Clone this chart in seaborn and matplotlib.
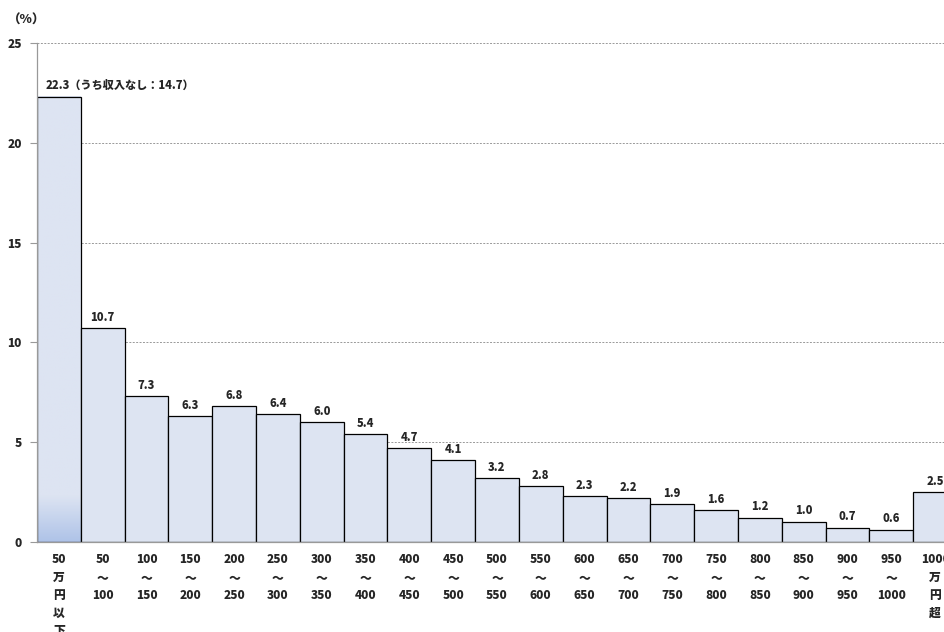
import numpy as np
import pandas as pd
import matplotlib
matplotlib.use("Agg")
import matplotlib.pyplot as plt
from matplotlib.colors import LinearSegmentedColormap
import seaborn as sns

# ---- data ----
categories = ["50\n万\n円\n以\n下", "50\n～\n100", "100\n～\n150", "150\n～\n200", "200\n～\n250",
              "250\n～\n300", "300\n～\n350", "350\n～\n400", "400\n～\n450", "450\n～\n500",
              "500\n～\n550", "550\n～\n600", "600\n～\n650", "650\n～\n700", "700\n～\n750",
              "750\n～\n800", "800\n～\n850", "850\n～\n900", "900\n～\n950", "950\n～\n1000",
              "1000\n万\n円\n超"]
values = [22.3, 10.7, 7.3, 6.3, 6.8, 6.4, 6.0, 5.4, 4.7, 4.1, 3.2, 2.8, 2.3, 2.2, 1.9,
          1.6, 1.2, 1.0, 0.7, 0.6, 2.5]
first_note = "（うち収入なし：14.7）"
yticks = [0, 5, 10, 15, 20, 25]

sns.set_theme(style="white")
plt.rcParams['font.family'] = ['Noto Sans CJK JP', 'DejaVu Sans']
W = 900
plt.rcParams['font.weight'] = W

BAR = "#dde4f2"
df = pd.DataFrame({"cat": categories, "val": values})

fig = plt.figure(figsize=(9.45, 6.32), dpi=100)
ax = fig.add_axes([37 / 945, 90 / 632, 920 / 945, 499 / 632])

sns.barplot(data=df, x="cat", y="val", color=BAR, saturation=1, width=1,
            edgecolor="black", linewidth=0.9, ax=ax, zorder=2)

ax.set_xlim(-0.5, len(categories) - 0.5)
ax.set_ylim(0, 25)
ax.set_yticks(yticks)
ax.set_yticklabels([str(t) for t in yticks], fontsize=8.5, fontweight=W)
ax.set_xlabel("")
ax.set_ylabel("")

# grid
for t in yticks[1:]:
    ax.axhline(t, color="#999999", linewidth=0.7, linestyle=(0, (2, 1.5)), zorder=1)

for s in ["top", "right"]:
    ax.spines[s].set_visible(False)
for s in ["left", "bottom"]:
    ax.spines[s].set_color("#999999")
    ax.spines[s].set_linewidth(0.9)

patches = ax.patches
# first bar gradient
p0 = patches[0]
n = 300
h = p0.get_height()
ys = np.linspace(h, 0, n)
frac = np.clip(1 - ys / 2.3, 0, 1)[:, None]
cmap = LinearSegmentedColormap.from_list("g", [BAR, "#afc3e8"])
ax.imshow(frac, cmap=cmap, vmin=0, vmax=1, aspect="auto",
          extent=(p0.get_x(), p0.get_x() + p0.get_width(), 0, h), zorder=1.5)
p0.set_facecolor("none")
ax.set_xlim(-0.5, len(categories) - 0.5)
ax.set_ylim(0, 25)

# x ticks
ax.set_xticks(range(len(categories)))
ax.set_xticklabels(categories, fontsize=8.5, fontweight=W, linespacing=1.58, va="top")
ax.tick_params(axis="x", which="major", length=0, pad=8)
bounds = [p.get_x() for p in patches] + [patches[-1].get_x() + patches[-1].get_width()]
ax.set_xticks(bounds, minor=True)
ax.tick_params(axis="x", which="minor", length=4, color="#999999", width=0.8, direction="out")
ax.tick_params(axis="y", length=5, color="#999999", width=0.8, direction="out", pad=6)
ax.tick_params(axis="both", bottom=True, left=True)

# labels
for i, (p, v) in enumerate(zip(patches, values)):
    if i == 0:
        ax.annotate(f"{v:.1f}{first_note}", (p.get_x(), v), xytext=(6, 4),
                    textcoords="offset points", ha="left", va="bottom",
                    fontsize=8, fontweight=W)
    else:
        ax.annotate(f"{v:.1f}", (p.get_x() + p.get_width() / 2, v), xytext=(0, 4),
                    textcoords="offset points", ha="center", va="bottom",
                    fontsize=8, fontweight=W)

fig.text(8 / 945, 1 - 20 / 632, "（%）", fontsize=9, fontweight=W, ha="left", va="center")

fig.savefig("out.png", dpi=100)
